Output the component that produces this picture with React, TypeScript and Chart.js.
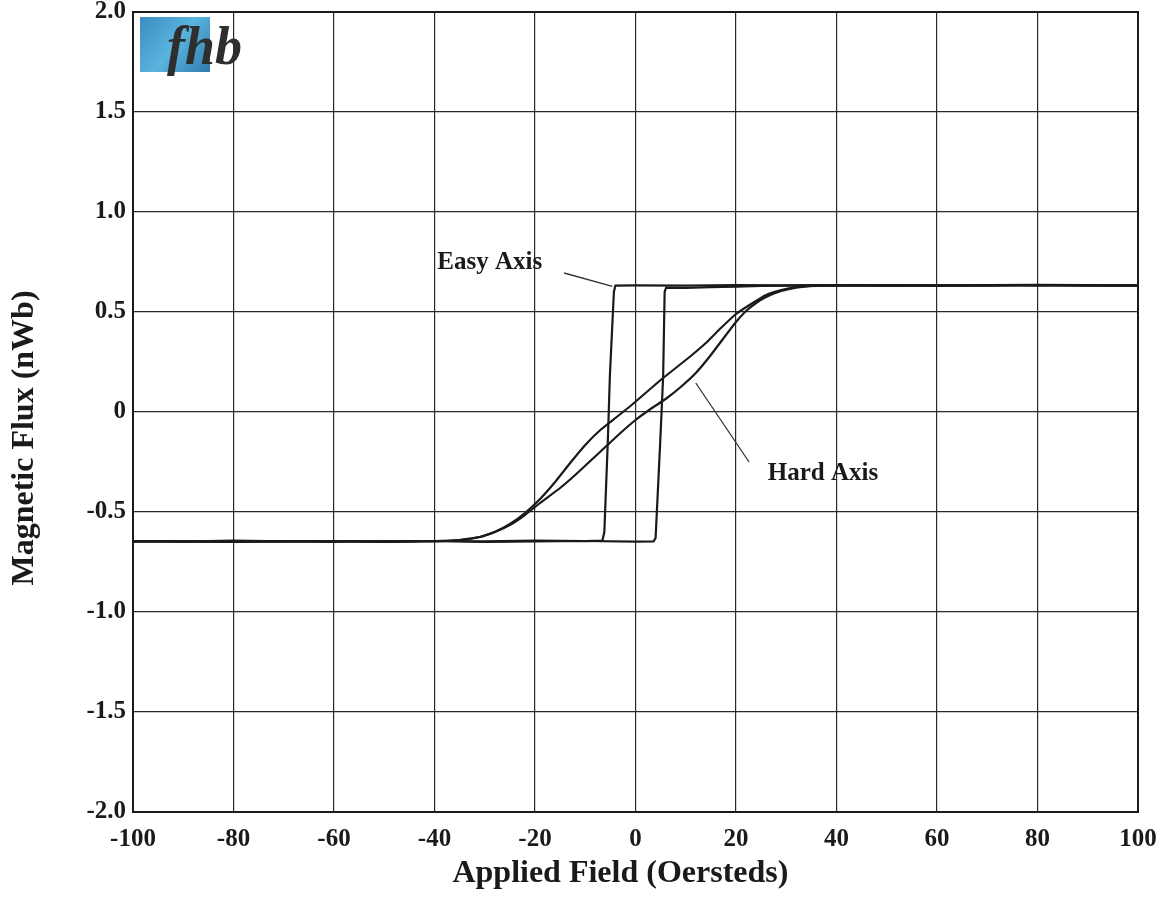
import React, { useEffect, useRef } from 'react';
import { Chart, registerables } from 'chart.js';

Chart.register(...registerables);

// Axis ticks
const xMin = -100;
const xMax = 100;
const xStep = 20;
const yMin = -2;
const yMax = 2;
const yStep = 0.5;

// Easy axis loop (field in Oe, flux in nWb)
const easyAscField = [-100, -90, -80, -70, -60, -50, -40, -30, -20, -10, 0, 3.6, 4.0, 4.9, 5.5, 5.8, 6.1, 10, 15, 20, 25, 30, 40, 50, 60, 70, 80, 90, 100];
const easyAscFlux = [-0.645, -0.648, -0.643, -0.647, -0.645, -0.649, -0.645, -0.65, -0.647, -0.645, -0.648, -0.647, -0.63, -0.16, 0.176, 0.6, 0.622, 0.62, 0.624, 0.627, 0.63, 0.632, 0.634, 0.631, 0.633, 0.632, 0.635, 0.632, 0.633];
const easyDescField = [100, 90, 80, 70, 60, 50, 40, 30, 20, 10, 0, -4.0, -4.3, -5.1, -5.5, -6.2, -6.6, -10, -20, -30, -40, -50, -60, -70, -80, -90, -100];
const easyDescFlux = [0.633, 0.634, 0.632, 0.635, 0.632, 0.633, 0.635, 0.633, 0.634, 0.632, 0.633, 0.632, 0.6, 0.18, -0.14, -0.6, -0.643, -0.646, -0.643, -0.647, -0.645, -0.648, -0.645, -0.646, -0.649, -0.645, -0.647];

// Hard axis loop
const hardAscField = [-100, -80, -60, -50, -40, -35, -31, -28, -25, -22, -19, -15, -12, -9, -6, -3, 0, 3, 6, 9, 12, 15, 18, 20, 22, 24, 26, 29, 32, 36, 40, 50, 60, 80, 100];
const hardAscFlux = [-0.646, -0.65, -0.645, -0.649, -0.645, -0.64, -0.625, -0.6, -0.565, -0.515, -0.455, -0.38, -0.315, -0.245, -0.175, -0.105, -0.04, 0.015, 0.065, 0.125, 0.195, 0.285, 0.385, 0.45, 0.505, 0.545, 0.575, 0.605, 0.622, 0.63, 0.632, 0.634, 0.632, 0.635, 0.632];
const hardDescField = [100, 80, 60, 50, 40, 36, 32, 29, 26, 23, 20, 17, 14, 11, 8, 5, 2, -1, -4, -7, -10, -13, -16, -19, -22, -25, -28, -31, -35, -40, -50, -60, -80, -100];
const hardDescFlux = [0.632, 0.636, 0.632, 0.634, 0.632, 0.632, 0.625, 0.61, 0.585, 0.54, 0.49, 0.42, 0.345, 0.28, 0.22, 0.16, 0.095, 0.03, -0.03, -0.09, -0.165, -0.255, -0.35, -0.435, -0.505, -0.56, -0.6, -0.625, -0.64, -0.647, -0.645, -0.65, -0.645, -0.648];

// Labels
const xTitle = 'Applied Field (Oersteds)';
const yTitle = 'Magnetic Flux (nWb)';
const easyLabel = 'Easy Axis';
const hardLabel = 'Hard Axis';
const logoText = 'fhb';

// Annotation anchors in data units
const easyText = { x: -29, y: 0.745 };
const easyLeader = [{ x: -14.2, y: 0.695 }, { x: -4.6, y: 0.628 }];
const hardText = { x: 37.3, y: -0.31 };
const hardLeader = [{ x: 12, y: 0.145 }, { x: 22.6, y: -0.25 }];
// Axis title anchors (data units along each axis)
const xTitleAt = -3;
const yTitleAt = -0.13;

const SERIF = "'Liberation Serif', 'Times New Roman', serif";
const INK = '#1a1a1a';

const pts = (xs: number[], ys: number[]) => xs.map((x, i) => ({ x, y: ys[i] }));

const frame = {
  id: 'frame',
  afterDatasetsDraw(chart: any) {
    const { ctx, chartArea: a } = chart;
    ctx.save();
    ctx.strokeStyle = INK;
    ctx.lineWidth = 2;
    ctx.strokeRect(a.left, a.top, a.right - a.left, a.bottom - a.top);
    ctx.restore();
  },
};

const notes = {
  id: 'notes',
  afterDraw(chart: any) {
    const { ctx, scales } = chart;
    const sx = scales.x, sy = scales.y;
    ctx.save();
    ctx.strokeStyle = '#333';
    ctx.lineWidth = 1.3;
    [easyLeader, hardLeader].forEach((l) => {
      ctx.beginPath();
      ctx.moveTo(sx.getPixelForValue(l[0].x), sy.getPixelForValue(l[0].y));
      ctx.lineTo(sx.getPixelForValue(l[1].x), sy.getPixelForValue(l[1].y));
      ctx.stroke();
    });
    ctx.fillStyle = INK;
    ctx.font = `bold 25px ${SERIF}`;
    ctx.textAlign = 'center';
    ctx.textBaseline = 'middle';
    ctx.fillText(easyLabel, sx.getPixelForValue(easyText.x), sy.getPixelForValue(easyText.y));
    ctx.fillText(hardLabel, sx.getPixelForValue(hardText.x), sy.getPixelForValue(hardText.y));

    // axis titles
    ctx.font = `bold 32px ${SERIF}`;
    ctx.fillText(xTitle, sx.getPixelForValue(xTitleAt), sx.bottom - 38);
    ctx.save();
    ctx.translate(sy.left + 25, sy.getPixelForValue(yTitleAt));
    ctx.rotate(-Math.PI / 2);
    ctx.fillText(yTitle, 0, 0);
    ctx.restore();

    // logo
    const a = chart.chartArea;
    const lx = a.left + 7, ly = a.top + 5;
    const g = ctx.createLinearGradient(lx, ly, lx + 70, ly + 55);
    g.addColorStop(0, '#3a8cc2');
    g.addColorStop(0.5, '#5ab4de');
    g.addColorStop(1, '#2f79ad');
    ctx.fillStyle = g;
    ctx.fillRect(lx, ly, 70, 55);
    ctx.fillStyle = '#2e2e2e';
    ctx.font = `italic bold 54px ${SERIF}`;
    ctx.textAlign = 'left';
    ctx.textBaseline = 'alphabetic';
    ctx.fillText(logoText, lx + 27, ly + 47);
    ctx.restore();
  },
};

export default function App() {
  const ref = useRef<HTMLCanvasElement | null>(null);
  useEffect(() => {
    if (!ref.current) return;
    const lineStyle = { showLine: true, pointRadius: 0, borderColor: INK, borderWidth: 2.2, fill: false };
    const chart = new Chart(ref.current, {
      type: 'scatter',
      data: {
        datasets: [
          { label: 'Easy ascending', data: pts(easyAscField, easyAscFlux), ...lineStyle, tension: 0 },
          { label: 'Easy descending', data: pts(easyDescField, easyDescFlux), ...lineStyle, tension: 0 },
          { label: 'Hard ascending', data: pts(hardAscField, hardAscFlux), ...lineStyle, tension: 0.1 },
          { label: 'Hard descending', data: pts(hardDescField, hardDescFlux), ...lineStyle, tension: 0.1 },
        ],
      },
      options: {
        animation: false,
        responsive: false,
        devicePixelRatio: 1,
        layout: { padding: { top: 0, right: 28, left: 0, bottom: 0 } },
        plugins: { legend: { display: false }, tooltip: { enabled: false } },
        scales: {
          x: {
            type: 'linear',
            min: xMin,
            max: xMax,
            afterFit: (s: any) => { s.height = 100; s.paddingLeft = 0; s.paddingRight = 0; },
            ticks: {
              stepSize: xStep,
              autoSkip: false,
              maxRotation: 0,
              padding: 13,
              color: INK,
              font: { family: SERIF, size: 25, weight: 'bold' },
            },
            grid: { color: '#2a2a2a', lineWidth: 1.2, drawTicks: false },
            border: { display: true, color: INK, width: 2 },
            title: { display: false, text: xTitle },
          },
          y: {
            type: 'linear',
            min: yMin,
            max: yMax,
            afterFit: (s: any) => { s.width = 133; s.paddingTop = 12; s.paddingBottom = 0; },
            ticks: {
              stepSize: yStep,
              padding: 7,
              color: INK,
              font: { family: SERIF, size: 25, weight: 'bold' },
              callback: (v: any) => (Number(v) === 0 ? '0' : Number(v).toFixed(1)),
            },
            grid: { color: '#2a2a2a', lineWidth: 1.2, drawTicks: false },
            border: { display: true, color: INK, width: 2 },
            title: { display: false, text: yTitle },
          },
        },
      },
      plugins: [frame, notes],
    } as any);
    return () => chart.destroy();
  }, []);
  return (
    <div style={{ position: 'absolute', left: 0, top: 0, width: 1166, height: 912, background: '#fff' }}>
      <canvas ref={ref} width={1166} height={912} style={{ display: 'block' }} />
    </div>
  );
}
